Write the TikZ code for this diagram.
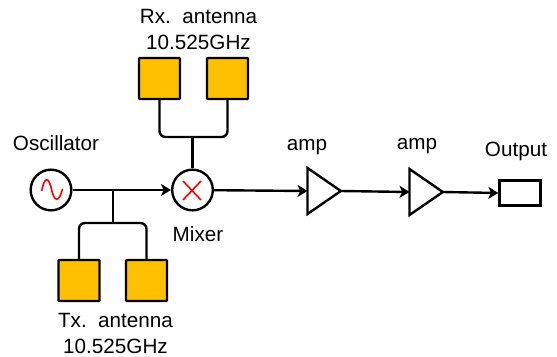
\documentclass[tikz,border=0pt]{standalone}
\usepackage{fontspec}
\setmainfont{Liberation Sans}
\usepackage{tikz}
\usetikzlibrary{arrows.meta,shapes.geometric}
\definecolor{patchColor}{RGB}{255,192,0}
\tikzstyle{diagram} = [x = .75pt, y = -.75pt]
\tikzstyle{wireLine} = [color=black, line width=1.8pt, -{Stealth[length=7.5pt,width=9pt,inset=2pt]}]
\tikzstyle{plainLine} = [color=black, line width=1.8pt]
\tikzstyle{busLine} = [plainLine, rounded corners = 4.5pt]
\tikzstyle{patchStyle} = [draw=black, fill=patchColor, line width=1.8pt, rounded corners = .6pt, minimum width=30.75pt, minimum height=30.75pt, inner sep=0pt]
\tikzstyle{roundStyle} = [draw=black, fill=white, line width=1.8pt, circle, minimum size=30.5pt, inner sep=0pt]
\tikzstyle{ampStyle} = [draw=black, fill=white, line width=1.8pt, isosceles triangle, isosceles triangle stretches, minimum width=34.5pt, minimum height=25pt, inner sep=0pt, outer sep=0pt, anchor=lower side]
\tikzstyle{outputStyle} = [draw=black, fill=white, line width=1.8pt, minimum width=30.75pt, minimum height=18.75pt, inner sep=0pt]
\tikzstyle{labelText} = [font=\fontsize{15.5}{19.5}\selectfont, align=center, inner sep=0pt]
\tikzstyle{symbolLine} = [color=red, line width=1.2pt]
\begin{document}
\begin{tikzpicture}[diagram]
  \useasboundingbox (0,0) rectangle (557,357);

  \node [roundStyle] (oscillator) at (51,190) {};
  \node [roundStyle] (mixer) at (192.5,190) {};
  \node [ampStyle] (ampOne) at (307.5,191) {};
  \node [ampStyle] (ampTwo) at (409.5,192) {};
  \node [outputStyle] (output) at (520,193) {};

  \node [patchStyle] (rxLeft) at (159.5,78.5) {};
  \node [patchStyle] (rxRight) at (227.5,78.5) {};
  \node [patchStyle] (txLeft) at (79,280.5) {};
  \node [patchStyle] (txRight) at (146.5,280.5) {};

  \coordinate (txJunction) at (113,190);
  \coordinate (txBus) at (113,223);
  \coordinate (rxBus) at (192.5,137);

  \draw [wireLine] (oscillator) -- (mixer);
  \draw [wireLine] (mixer) -- (ampOne.lower side);
  \draw [wireLine] (ampOne.apex) -- (ampTwo.lower side);
  \draw [wireLine] (ampTwo.apex) -- (output.west);

  \draw [plainLine] (txJunction) -- (txBus);
  \draw [busLine] (txLeft.north) -- (txLeft.north |- txBus) -- (txRight.north |- txBus) -- (txRight.north);
  \draw [plainLine] (rxBus) -- (mixer);
  \draw [busLine] (rxLeft.south) -- (rxLeft.south |- rxBus) -- (rxRight.south |- rxBus) -- (rxRight.south);

  % symbols in the two circles
  \draw [symbolLine] (41.7,191) .. controls (44,178) and (48,176) .. (51,187) .. controls (54,203) and (59,203) .. (62.5,189);
  \draw [symbolLine] (183,181) -- (201,200);
  \draw [symbolLine] (201,181) -- (183,200);

  \node [labelText] (oscillatorText) at (56,143) {Oscillator};
  \node [labelText] (mixerText) at (198,234) {Mixer};
  \node [labelText] (ampOneText) at (307,147) {amp};
  \node [labelText] (ampTwoText) at (417,146) {amp};
  \node [labelText] (outputText) at (516,151) {Output};
  \node [labelText] (rxText) at (198.5,29.5) {Rx.\ \ antenna\\10.525GHz};
  \node [labelText] (txText) at (115.5,333) {Tx.\ \ antenna\\10.525GHz};
\end{tikzpicture}
\end{document}
